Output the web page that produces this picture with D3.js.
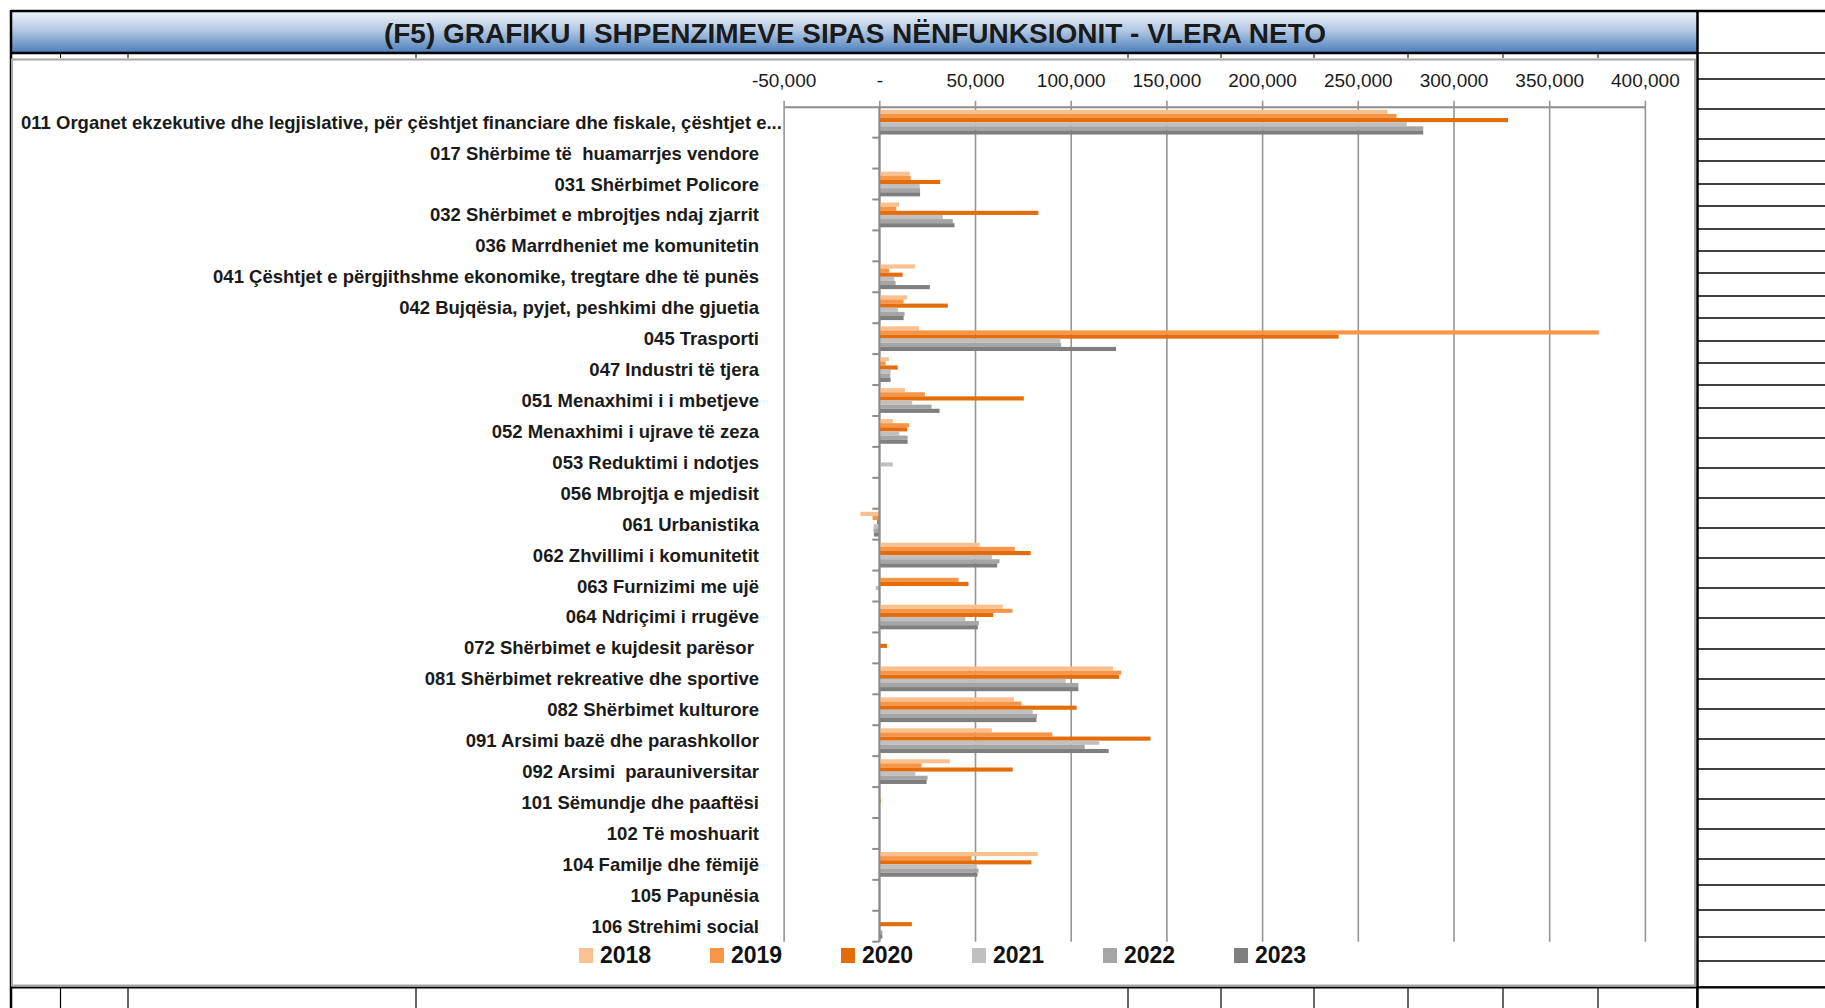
<!DOCTYPE html>
<html>
<head>
<meta charset="UTF-8">
<title>F5 grafiku</title>
<script src="https://cdn.jsdelivr.net/npm/d3@7"></script>
<style>
  body { margin: 0; background: #fff; }
  text { font-family: "Liberation Sans", Arial, sans-serif; white-space: pre; }
</style>
</head>
<body>
<div id="chart"></div>
<script>
// kategorite (nenfunksionet)
const categories = [
  "011 Organet ekzekutive dhe legjislative, për çështjet financiare dhe fiskale, çështjet e...",
  "017 Shërbime të  huamarrjes vendore",
  "031 Shërbimet Policore",
  "032 Shërbimet e mbrojtjes ndaj zjarrit",
  "036 Marrdheniet me komunitetin",
  "041 Çështjet e përgjithshme ekonomike, tregtare dhe të punës",
  "042 Bujqësia, pyjet, peshkimi dhe gjuetia",
  "045 Trasporti",
  "047 Industri të tjera",
  "051 Menaxhimi i i mbetjeve",
  "052 Menaxhimi i ujrave të zeza",
  "053 Reduktimi i ndotjes",
  "056 Mbrojtja e mjedisit",
  "061 Urbanistika",
  "062 Zhvillimi i komunitetit",
  "063 Furnizimi me ujë",
  "064 Ndriçimi i rrugëve",
  "072 Shërbimet e kujdesit parësor ",
  "081 Shërbimet rekreative dhe sportive",
  "082 Shërbimet kulturore",
  "091 Arsimi bazë dhe parashkollor",
  "092 Arsimi  parauniversitar",
  "101 Sëmundje dhe paaftësi",
  "102 Të moshuarit",
  "104 Familje dhe fëmijë",
  "105 Papunësia",
  "106 Strehimi social"
];

const years = ["2018", "2019", "2020", "2021", "2022", "2023"];

const v2018 = [265500, 0, 15900, 10300, 0, 18800, 14500, 20800, 5000, 13400, 7100, 0, 0, -9900, 52500, 0, 64500, 0, 122100, 70400, 58800, 36900, 0, 0, 82800, 0, 0];
const v2019 = [270200, 0, 16400, 8900, 0, 5200, 12700, 375900, 3300, 23800, 15500, 0, 0, -3500, 70800, 41400, 69600, 0, 126400, 74300, 90400, 22100, 0, 0, 48200, 0, 0];
const v2020 = [328500, 0, 31800, 83100, 0, 12200, 35800, 240000, 9600, 75500, 14600, 0, 0, -1200, 79100, 46600, 59500, 4000, 125200, 103100, 141700, 69700, 700, 0, 79500, 0, 17000];
const v2021 = [275600, 0, 21100, 33200, 0, 7800, 9700, 94600, 5900, 17200, 10400, 7000, 0, -3000, 58800, -1900, 44900, 0, 97400, 80200, 114900, 18800, 0, 0, 50800, 0, 300];
const v2022 = [284200, 0, 21300, 38400, 0, 8500, 13200, 95000, 5700, 27300, 14800, 0, 0, -3000, 62800, 0, 52000, 0, 104000, 82400, 107300, 25200, 0, 0, 51800, 0, 1600];
const v2023 = [284200, 0, 21300, 39300, 0, 26400, 12700, 123700, 5900, 31500, 14800, 0, 0, -2800, 61600, 0, 51500, 0, 104000, 82100, 119800, 24700, 0, 0, 51300, 0, 1600];

const series = [v2018, v2019, v2020, v2021, v2022, v2023];
const tickValues = [-50000, 0, 50000, 100000, 150000, 200000, 250000, 300000, 350000, 400000];
const colors = ["#FAC090", "#F79646", "#E46C0A", "#C0C0C0", "#A5A5A5", "#7F7F7F"];

// rrjeti i flete-llogaritjes rreth grafikut
const sheetCols = [60.5, 128, 416, 1128, 1221, 1314, 1408, 1503, 1598];
const sheetRows = [53, 79, 109, 139, 161, 184, 206, 229, 251, 273, 296, 318, 341, 363, 385, 408, 438, 468, 498, 528, 558, 588, 618, 649, 679, 709, 739, 769, 799, 829, 859, 885, 910, 937, 961, 987];

const width = 1825;
const height = 1008;
const plotTop = 106.7;
const plotBottom = 941.7;
const labelRight = 759;

const svg = d3.select("#chart")
  .append("svg")
  .attr("width", width)
  .attr("height", height);

const defs = svg.append("defs");
const grad = defs.append("linearGradient")
  .attr("id", "titleGrad")
  .attr("x1", 0).attr("y1", 0).attr("x2", 0).attr("y2", 1);
grad.append("stop").attr("offset", "0%").attr("stop-color", "#eef3f9");
grad.append("stop").attr("offset", "45%").attr("stop-color", "#b4c9e4");
grad.append("stop").attr("offset", "100%").attr("stop-color", "#4a7ebb");

// sfondi i flete-llogaritjes
svg.append("rect")
  .attr("x", 11).attr("y", 11)
  .attr("width", 1697 - 11).attr("height", 53 - 11)
  .attr("fill", "url(#titleGrad)");

svg.append("text")
  .attr("x", 855)
  .attr("y", 33)
  .attr("text-anchor", "middle")
  .attr("dominant-baseline", "central")
  .attr("font-size", "28px")
  .attr("font-weight", "bold")
  .attr("fill", "#1a1a1a")
  .text("(F5) GRAFIKU I SHPENZIMEVE SIPAS NËNFUNKSIONIT - VLERA NETO");

const sheet = svg.append("g").attr("stroke", "#000").attr("fill", "none");
sheet.selectAll("line.row")
  .data(sheetRows)
  .join("line")
  .attr("x1", 1697).attr("x2", width)
  .attr("y1", d => d).attr("y2", d => d)
  .attr("stroke-width", 1.5);
sheet.selectAll("line.colTop")
  .data(sheetCols)
  .join("line")
  .attr("x1", d => d).attr("x2", d => d)
  .attr("y1", 53).attr("y2", 58)
  .attr("stroke-width", 1);
sheet.selectAll("line.colBottom")
  .data(sheetCols.concat([1697]))
  .join("line")
  .attr("x1", d => d).attr("x2", d => d)
  .attr("y1", 987).attr("y2", height)
  .attr("stroke-width", 1.2);

// korniza e grafikut
svg.append("rect")
  .attr("x", 12).attr("y", 59.5)
  .attr("width", 1695 - 12).attr("height", 985.5 - 59.5)
  .attr("fill", "none")
  .attr("stroke", "#a6a6a6")
  .attr("stroke-width", 2);

sheet.append("line").attr("x1", 11).attr("x2", width).attr("y1", 11).attr("y2", 11).attr("stroke-width", 2.5);
sheet.append("line").attr("x1", 11).attr("x2", 1697).attr("y1", 53).attr("y2", 53).attr("stroke-width", 2.5);
sheet.append("line").attr("x1", 11).attr("x2", width).attr("y1", 987.5).attr("y2", 987.5).attr("stroke-width", 2);
sheet.append("line").attr("x1", 11).attr("x2", 11).attr("y1", 10).attr("y2", height).attr("stroke-width", 2.5);
sheet.append("line").attr("x1", 1697.5).attr("x2", 1697.5).attr("y1", 10).attr("y2", height).attr("stroke-width", 2.5);

// shkallet
const x = d3.scaleLinear()
  .domain([-50000, 400000])
  .range([783.6, 1644.9]);

const y = d3.scaleBand()
  .domain(categories)
  .range([plotTop, plotBottom])
  .paddingInner(0.2)
  .paddingOuter(0.1);

const ySub = d3.scaleBand()
  .domain(years)
  .range([0, y.bandwidth()]);

const fmt = d3.format(",");

// boshti i vlerave lart me vijat e rrjetit
const xAxis = svg.append("g")
  .attr("transform", "translate(0," + plotTop + ")")
  .call(d3.axisTop(x)
    .tickValues(tickValues)
    .tickSizeInner(-(plotBottom - plotTop))
    .tickSizeOuter(0)
    .tickPadding(20)
    .tickFormat(d => d === 0 ? "-" : (d < 0 ? "-" + fmt(-d) : fmt(d))));
xAxis.select(".domain").attr("stroke", "#8c8c8c").attr("stroke-width", 2);
xAxis.selectAll(".tick line")
  .attr("y1", -6)
  .attr("stroke", "#969696")
  .attr("stroke-width", 1.6);
xAxis.selectAll(".tick text")
  .attr("font-size", "19px")
  .attr("font-family", "Liberation Sans, Arial, sans-serif")
  .attr("fill", "#1a1a1a");

// shtyllat
const rows = categories.flatMap((c, i) => years.map((yr, j) => ({ cat: c, year: yr, value: series[j][i], color: colors[j] })));

svg.append("g")
  .selectAll("rect")
  .data(rows.filter(d => d.value !== 0))
  .join("rect")
  .attr("x", d => x(Math.min(0, d.value)))
  .attr("y", d => y(d.cat) + ySub(d.year))
  .attr("width", d => Math.abs(x(d.value) - x(0)))
  .attr("height", ySub.bandwidth())
  .attr("fill", d => d.color);

// boshti i kategorive
const yAxis = svg.append("g")
  .attr("transform", "translate(" + x(0) + ",0)");
yAxis.append("line")
  .attr("y1", plotTop).attr("y2", plotBottom)
  .attr("stroke", "#8c8c8c").attr("stroke-width", 2);
yAxis.selectAll("line.tick")
  .data(d3.range(1, categories.length + 1))
  .join("line")
  .attr("x1", -7).attr("x2", 0)
  .attr("y1", k => plotTop + k * y.step())
  .attr("y2", k => plotTop + k * y.step())
  .attr("stroke", "#8c8c8c").attr("stroke-width", 2);

// etiketa e pare e gjate fillon nga e majta, te tjerat jane te drejtuara djathtas
svg.append("g")
  .selectAll("text")
  .data(categories)
  .join("text")
  .attr("x", (d, i) => i === 0 ? 21 : labelRight)
  .attr("y", d => y(d) + y.bandwidth() / 2)
  .attr("text-anchor", (d, i) => i === 0 ? "start" : "end")
  .attr("dominant-baseline", "central")
  .attr("font-size", "18.5px")
  .attr("font-weight", "bold")
  .attr("fill", "#1a1a1a")
  .text(d => d);

// legjenda
const legend = svg.append("g")
  .selectAll("g")
  .data(years)
  .join("g")
  .attr("transform", (d, i) => "translate(" + (579 + i * 131) + ",948)");
legend.append("rect")
  .attr("width", 14).attr("height", 15)
  .attr("fill", (d, i) => colors[i]);
legend.append("text")
  .attr("x", 21).attr("y", 15)
  .attr("font-size", "23px")
  .attr("font-weight", "bold")
  .attr("fill", "#111")
  .text(d => d);
</script>
</body>
</html>
